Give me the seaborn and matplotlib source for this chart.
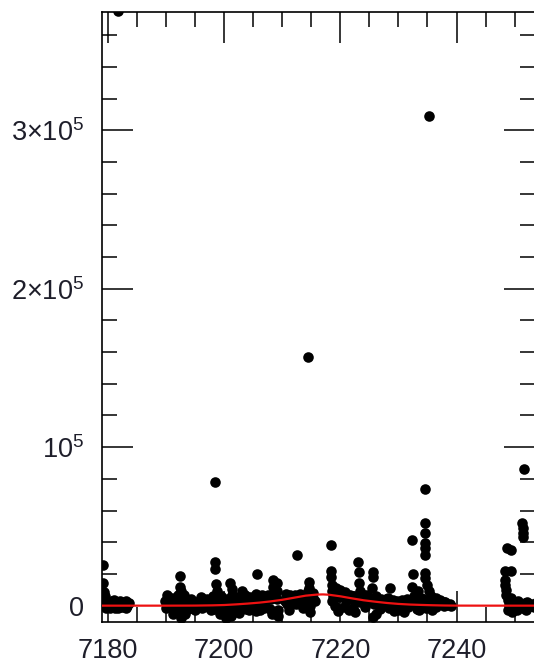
import matplotlib
matplotlib.use("Agg")
import matplotlib.pyplot as plt
from matplotlib.ticker import MultipleLocator, FixedLocator, FixedFormatter
import numpy as np
import pandas as pd
import seaborn as sns

# scatter clusters (time, counts)
t_a = [7179.1, 7179.2, 7179.3, 7179.5, 7179.6, 7179.8, 7180.0, 7180.3, 7180.6, 7180.9, 7181.2,
       7181.5, 7181.8, 7182.1, 7182.4, 7182.7, 7183.0, 7183.3, 7183.6, 7180.4, 7181.0, 7181.7,
       7182.3, 7183.0, 7179.7, 7181.7]
c_a = [25700, 14000, 8800, 6000, 3000, 500, 2500, -1000, 3000, 500, -1500,
       2500, 0, 3000, -1000, 1500, 3000, 0, 1500, -1500, 3500, -1500,
       1000, -1200, -1500, 375500]

t_b = [7189.8, 7190.2, 7190.6, 7191.0, 7191.3, 7191.7, 7192.0, 7192.4, 7192.4, 7192.6, 7192.8,
       7193.1, 7193.4, 7193.8, 7194.2, 7194.6, 7190.0, 7190.8, 7191.5, 7192.2, 7193.0, 7193.7,
       7194.4, 7192.5, 7191.2, 7193.2]
c_b = [3000, 6500, 1000, 5000, -1000, 2500, 7000, 18900, 12000, 9000, 4000,
       7000, -1000, 2000, 4500, 500, -1500, -1000, 3000, -2500, 1000, -2000,
       -1500, -8000, -5500, -5000]

t_c = [7195.5, 7196.0, 7196.5, 7197.0, 7197.5, 7198.0, 7198.4, 7198.4, 7198.4, 7198.6, 7198.7,
       7199.0, 7199.5, 7200.0, 7200.5, 7201.0, 7201.3, 7201.3, 7201.6, 7202.0, 7202.5, 7203.0,
       7203.0, 7203.5, 7204.0, 7204.5, 7205.0, 7205.6, 7205.5, 7206.0, 7206.5, 7207.0, 7207.5,
       7208.0, 7208.4, 7208.4, 7208.6, 7196.2, 7197.2, 7198.2, 7199.2, 7200.2, 7200.8, 7201.8,
       7202.8, 7203.8, 7204.8, 7205.8, 7206.8, 7207.8, 7200.3, 7201.2, 7208.3, 7197.8, 7199.8,
       7202.2, 7204.2, 7206.2]
c_c = [2000, 5500, 0, 4000, 1500, 6000, 78000, 27400, 23000, 13500, 9000,
       3000, 6000, 500, 4000, 14500, 10500, 7000, 2000, 5500, 1000, 9400,
       4000, 6500, 2500, 5500, 1000, 19800, 7500, 4000, 6500, 2500, 7000,
       4000, 16200, 12000, 8000, -1500, -1000, -2000, -1500, -1000, -2500, -1500,
       -1000, -2000, -1500, -1000, -1500, -2000, -8000, -6500, -5000, -3000, -4000,
       -3500, -3000, -3000]

t_d = [7209.0, 7209.0, 7209.1, 7209.2, 7210.6, 7211.0, 7211.4, 7211.8, 7212.2, 7212.6, 7213.0,
       7213.4, 7210.8, 7211.6, 7212.4, 7213.2, 7212.5, 7214.5, 7214.6, 7214.6, 7214.7, 7214.7,
       7214.8, 7214.8, 7214.5, 7215.2, 7215.6]
c_d = [14000, 9000, 4000, -3000, 7500, 4000, 7000, 3000, 6500, 2000, 7500,
       5000, 1000, 1500, 1000, 1500, 32000, 157000, 15000, 11000, 7000, 3000,
       0, -4000, 9000, 5000, 3000]

t_e = [7218.3, 7218.3, 7218.4, 7218.5, 7218.6, 7218.8, 7219.2, 7219.6, 7220.0, 7220.4, 7220.8,
       7221.2, 7221.6, 7222.0, 7222.4, 7222.8, 7223.1, 7223.2, 7223.2, 7223.3, 7223.6, 7224.0,
       7224.4, 7224.8, 7225.6, 7225.6, 7225.5, 7225.8, 7226.2, 7226.6, 7227.0, 7227.4, 7227.8,
       7228.2, 7228.6, 7229.0, 7229.4, 7229.8, 7230.2, 7230.6, 7231.0, 7231.4, 7231.8, 7232.3,
       7232.5, 7232.3, 7232.6, 7233.0, 7233.4, 7233.8, 7234.2, 7234.6, 7234.6, 7234.6, 7234.6,
       7234.6, 7234.6, 7234.6, 7234.6, 7235.0, 7235.3, 7235.2, 7235.6, 7236.0, 7236.4, 7236.8,
       7237.2, 7237.6, 7238.0, 7238.4, 7238.8, 7219.0, 7220.6, 7222.2, 7224.2, 7225.6, 7226.8,
       7228.4, 7230.0, 7231.6, 7233.2, 7234.8, 7236.4, 7237.8, 7221.4, 7229.2, 7233.6]
c_e = [38300, 22000, 18000, 13000, 9500, 6000, 11000, 8000, 10000, 6500, 8500,
       5500, 7000, 4500, 6000, 3500, 27800, 21500, 14100, 9000, 5000, 6500,
       3000, 5000, 21500, 18300, 11000, 4000, 6000, 2500, 4500, 1500, 4000,
       2000, 11000, 3500, 1000, 3000, 500, 3500, 1500, 4000, 2000, 41500,
       20200, 12000, 6000, 3500, 9000, 5000, 2500, 73400, 52000, 45800, 39500,
       36400, 32200, 20800, 17500, 13000, 309000, 9000, 6000, 3000, 5000, 1500,
       3500, 1000, 2500, 500, 1000, -500, -1000, -1500, -1000, -7000, -2000,
       -1500, -2500, -1000, -2000, -1500, -1000, -500, -3000, -3500, -3000]

t_f = [7251.6, 7251.3, 7251.4, 7251.5, 7251.5, 7248.7, 7249.4, 7248.4, 7249.3, 7248.3, 7248.4,
       7248.5, 7248.6, 7248.8, 7249.0, 7249.4, 7249.8, 7250.2, 7250.6, 7251.0, 7251.4, 7251.8,
       7252.2, 7252.6, 7253.0, 7253.4, 7249.6, 7250.4, 7253.8]
c_f = [86100, 52000, 48800, 45600, 43500, 36200, 35100, 22100, 22100, 16200, 13000,
       10000, 6800, 3600, 500, 5000, 2000, -1000, 3000, 0, -1500, 1500,
       2500, -500, 1000, -1000, -4000, -2500, 2000]

# extra points inside the dense band near zero
t_g = [7190.4, 7191.6, 7192.8, 7194.0, 7195.2, 7196.4, 7197.6, 7198.8, 7200.0, 7201.2, 7202.4,
       7203.6, 7204.8, 7206.0, 7207.2, 7208.4, 7210.4, 7211.6, 7212.8, 7214.0, 7215.2, 7218.6,
       7219.8, 7221.0, 7222.2, 7223.4, 7224.6, 7225.8, 7227.0, 7228.2, 7229.4, 7230.6, 7231.8,
       7233.0, 7234.2, 7235.4, 7236.6, 7237.8, 7239.0]
c_g = [2000, 4000, 1500, 3500, 2500, 4500, 3000, 1500, 3500, 2500, 4500,
       3000, 5000, 2500, 4500, 6000, 3000, 5500, 4000, 6000, 8000, 3000,
       5500, 3000, 6000, 2000, 7000, 1000, 3000, 5000, 2000, 1500, 500,
       1500, 4500, 2000, 500, 2500, -500]
t_h = [7191.8, 7195.0, 7199.2, 7202.6, 7205.4, 7209.3, 7211.2, 7213.6, 7219.6, 7222.6, 7226.2,
       7231.0, 7235.8, 7248.9, 7252.0]
c_h = [-3500, -3000, -5500, -4500, -3500, -6500, -2500, -1500, -3500, -4000, -5500,
       -4000, -3000, -3000, -2500]

# fitted curve (red)
fit_t = [7179, 7185, 7190, 7195, 7198, 7200, 7202, 7204, 7206, 7208, 7210, 7212, 7214, 7216,
         7217, 7218, 7220, 7222, 7224, 7226, 7228, 7230, 7232, 7234, 7236, 7238, 7240, 7245, 7254]
fit_c = [0, 0, 0, 50, 200, 400, 800, 1300, 1900, 2700, 3700, 5000, 6300, 7000,
         7100, 6900, 5900, 4600, 3400, 2500, 1700, 1100, 700, 450, 250, 100, 30, 0, 0]

ytick_vals = [0, 100000, 200000, 300000]
ytick_labels = ["0", r"$10^{5}$", r"$2{\times}10^{5}$", r"$3{\times}10^{5}$"]

pts = pd.DataFrame({
    "t": t_a + t_b + t_c + t_d + t_e + t_f + t_g + t_h,
    "counts": c_a + c_b + c_c + c_d + c_e + c_f + c_g + c_h,
})
fit = pd.DataFrame({"t": fit_t, "counts": fit_c})

sns.set_theme(style="ticks")
plt.rcParams["font.family"] = ["Liberation Sans", "DejaVu Sans"]
plt.rcParams["mathtext.fontset"] = "custom"
plt.rcParams["mathtext.rm"] = "Liberation Sans"
plt.rcParams["mathtext.it"] = "Liberation Sans"

fig = plt.figure(figsize=(5.34, 6.68), dpi=100)
ax = fig.add_axes([102.3 / 534, 45.7 / 668, 433.2 / 534, 610.3 / 668])

sns.scatterplot(data=pts, x="t", y="counts", ax=ax, color="black", s=58,
                linewidth=0, legend=False, zorder=2)
sns.lineplot(data=fit, x="t", y="counts", ax=ax, color="#ee1111", linewidth=1.6,
             zorder=3, estimator=None)

ax.set_xlim(7179.0, 7253.6)
ax.set_ylim(-10500, 374600)
ax.set_xlabel("")
ax.set_ylabel("")

ax.xaxis.set_major_locator(MultipleLocator(20))
ax.xaxis.set_minor_locator(MultipleLocator(5))
ax.yaxis.set_major_locator(FixedLocator(ytick_vals))
ax.yaxis.set_major_formatter(FixedFormatter(ytick_labels))
ax.yaxis.set_minor_locator(MultipleLocator(20000))

txt = "#1e1e2a"
ax.tick_params(which="both", direction="in", top=True, right=True, color="black",
               labelcolor=txt, labelsize=19.5)
ax.tick_params(which="major", length=22, width=1.1)
ax.tick_params(which="minor", length=11, width=1.1)
ax.tick_params(axis="x", which="major", pad=11)
ax.tick_params(axis="y", which="major", pad=13)
for s in ax.spines.values():
    s.set_linewidth(1.2)
    s.set_color("black")

fig.savefig("out.png", dpi=100)
